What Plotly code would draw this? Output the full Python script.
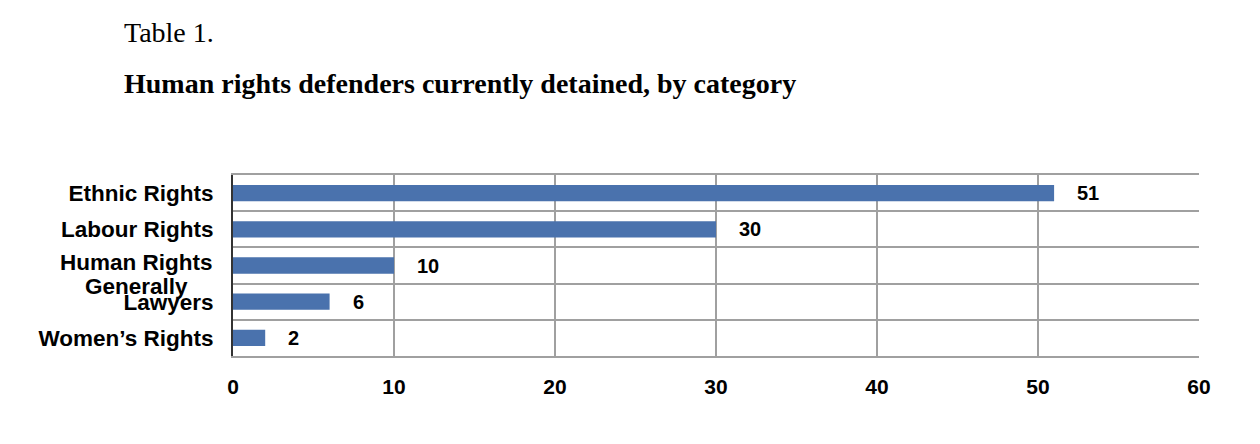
import plotly.graph_objects as go

categories = ["Ethnic Rights", "Labour Rights", "Human Rights Generally", "Lawyers", "Women\u2019s Rights"]
tick_labels = ["Ethnic Rights", "Labour Rights", "", "Lawyers", "Women\u2019s Rights"]
split_label = ("Human Rights", "Generally")
values = [51, 30, 10, 6, 2]
x_ticks = [0, 10, 20, 30, 40, 50, 60]

bar_color = "#4a72ad"
grid_color = "#a0a0a0"
label_font = dict(family="Liberation Sans", size=22.5, color="black", weight="bold")

fig = go.Figure()
fig.add_trace(go.Bar(
    x=values, y=categories, orientation="h",
    marker=dict(color=bar_color, line=dict(width=0)),
    width=0.45,
    hoverinfo="x+y",
))

for c, v in zip(categories, values):
    fig.add_annotation(x=v, y=c, text=str(v), showarrow=False,
                       xanchor="left", xshift=21,
                       font=dict(family="Liberation Sans", size=20, color="black", weight="bold"))

# two-line category label, centred lines as in the original
fig.add_annotation(xref="paper", x=0, y=categories[2], text=split_label[0], showarrow=False,
                   xanchor="right", xshift=-18, yshift=3, font=label_font)
fig.add_annotation(xref="paper", x=0, y=categories[2], text=split_label[1], showarrow=False,
                   xanchor="center", xshift=-97, yshift=-21, font=label_font)

fig.add_annotation(xref="paper", yref="paper", x=-0.115, y=1.785, xanchor="left", yanchor="middle",
                   text="Table 1.", showarrow=False,
                   font=dict(family="Liberation Serif", size=28, color="black"))
fig.add_annotation(xref="paper", yref="paper", x=-0.115, y=1.508, xanchor="left", yanchor="middle",
                   text="<b>Human rights defenders currently detained, by category</b>", showarrow=False,
                   font=dict(family="Liberation Serif", size=28, color="black"))

fig.update_layout(
    width=1260, height=444,
    margin=dict(l=225, r=69, t=167, b=96),
    paper_bgcolor="white", plot_bgcolor="white",
    showlegend=False,
    bargap=0.55,
    xaxis=dict(range=[0, 60], tickvals=x_ticks, showgrid=True, gridcolor=grid_color, gridwidth=2,
               zeroline=False, showline=True, linecolor=grid_color, linewidth=2, mirror=True,
               ticks="", ticklabelstandoff=11,
               tickfont=dict(family="Liberation Sans", size=21, color="black", weight="bold"),
               fixedrange=True),
    yaxis=dict(type="category", categoryorder="array", categoryarray=categories,
               tickvals=categories, ticktext=tick_labels,
               autorange="reversed", tickson="boundaries", showgrid=True, gridcolor=grid_color,
               gridwidth=2, showline=True, linecolor="#333333", linewidth=2, mirror=False,
               ticks="", ticklabelstandoff=13,
               tickfont=label_font,
               fixedrange=True),
)

fig.write_html("out.html")
